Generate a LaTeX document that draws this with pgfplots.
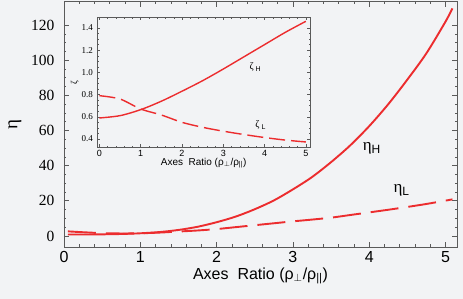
\documentclass[border=0pt]{standalone}
\usepackage{pgfplots}
\pgfplotsset{compat=1.18}
\usepackage{fontspec}
\setmainfont{Liberation Serif}
\setsansfont{Liberation Sans}
\newfontfamily\lsans{Liberation Sans}
\newfontfamily\lserif{Liberation Serif}
\definecolor{bg}{RGB}{242,243,245}
\definecolor{cr}{RGB}{236,44,46}
\definecolor{fr}{RGB}{90,90,90}
\begin{document}
\begin{tikzpicture}
\useasboundingbox (-64pt,-52pt) rectangle (399pt,247pt);
\fill[bg] (-64pt,-52pt) rectangle (399pt,247pt);
\begin{axis}[
  at={(0pt,0pt)}, anchor=south west,
  scale only axis, width=393pt, height=245.3pt,
  xmin=0, xmax=5.15, ymin=-6.3, ymax=133.3,
  axis line style={fr, line width=0.8pt},
  tick style={fr, line width=0.6pt},
  tick align=inside,
  major tick length=5pt, minor tick length=2.5pt,
  xtick={0,1,2,3,4,5}, minor x tick num=4,
  xticklabels={0,1,2,3,4,5},
  ytick={0,20,40,60,80,100,120}, minor y tick num=3,
  yticklabels={0,20,40,60,80,100,120},
  xticklabel style={font=\lsans\fontsize{16}{16}\selectfont, yshift=-1pt},
  yticklabel style={font=\lserif\fontsize{15.5}{16}\selectfont, xshift=-6pt},
  xlabel={\lsans\fontsize{16}{16}\selectfont Axes\ \ Ratio (ρ\textsubscript{$\perp$}/ρ\textsubscript{||})},
  xlabel style={yshift=2pt},
  ylabel={\lserif\fontsize{19}{19}\selectfont η},
  ylabel style={yshift=3pt},
  axis background/.style={fill=bg},
  clip=false,
]
\addplot[cr, line width=1.9pt, smooth] coordinates {
(0.05,0.8)(0.25,0.8)(0.5,0.9)(0.75,1.1)(1.0,1.5)(1.25,2.2)(1.5,3.4)(1.75,5.2)
(2.0,7.8)(2.25,11.0)(2.5,15.2)(2.75,20.2)(3.0,26.5)(3.25,33.5)(3.5,42)
(3.75,51.5)(4.0,62.5)(4.25,75)(4.5,89)(4.75,104)(5.0,122)(5.09,129.5)};
\addplot[cr, line width=1.9pt, smooth, dash pattern=on 28pt off 10pt] coordinates {
(0.05,2.6)(0.25,2.1)(0.5,1.6)(0.75,1.4)(1.0,1.5)(1.25,1.9)(1.5,2.5)(1.75,3.1)
(2.0,3.9)(2.25,5.0)(2.5,6.1)(2.75,7.2)(3.0,8.3)(3.25,9.3)(3.5,10.4)
(3.75,11.9)(4.0,13.4)(4.25,14.9)(4.5,16.5)(4.75,18.2)(5.0,20.1)(5.09,20.8)};
\node[font=\lserif\fontsize{17}{17}\selectfont] at (axis cs:4.03,50) {η\raisebox{-3pt}{\lsans\fontsize{12}{12}\selectfont H}};
\node[font=\lserif\fontsize{17}{17}\selectfont] at (axis cs:4.42,26) {η\raisebox{-3pt}{\lsans\fontsize{12}{12}\selectfont L}};
\end{axis}
\begin{axis}[
  at={(33.3pt,99.7pt)}, anchor=south west,
  scale only axis, width=212.7pt, height=130pt,
  xmin=-0.05, xmax=5.1, ymin=0.325, ymax=1.496,
  axis line style={fr, line width=0.6pt},
  tick style={fr, line width=0.4pt},
  tick align=inside,
  major tick length=3pt, minor tick length=1.5pt,
  xtick={0,1,2,3,4,5}, minor x tick num=4,
  xticklabels={0,1,2,3,4,5},
  ytick={0.4,0.6,0.8,1.0,1.2,1.4}, minor y tick num=3,
  yticklabels={0.4,0.6,0.8,1.0,1.2,1.4},
  xticklabel style={font=\lsans\fontsize{9}{9}\selectfont, yshift=1pt},
  yticklabel style={font=\lserif\fontsize{9}{9}\selectfont, xshift=-1pt},
  xlabel={\lsans\fontsize{10}{10}\selectfont Axes\ \ Ratio (ρ\textsubscript{$\perp$}/ρ\textsubscript{||})},
  xlabel style={yshift=5pt},
  ylabel={\lserif\fontsize{9}{9}\selectfont ζ},
  ylabel style={yshift=-4pt},
  axis background/.style={fill=bg},
  clip=false,
]
\addplot[cr, line width=1.4pt, smooth] coordinates {
(0,0.589)(0.5,0.61)(1.0,0.664)(1.5,0.74)(2.0,0.83)(2.5,0.925)(3.0,1.03)
(3.5,1.14)(4.0,1.25)(4.5,1.36)(5.0,1.46)};
\addplot[cr, line width=1.4pt, smooth, dash pattern=on 16pt off 6pt] coordinates {
(0,0.79)(0.5,0.76)(1.0,0.67)(1.5,0.616)(2.0,0.55)(2.5,0.505)(3.0,0.47)
(3.5,0.44)(4.0,0.413)(4.5,0.39)(5.0,0.373)};
\node[font=\lserif\fontsize{10}{10}\selectfont] at (axis cs:3.77,1.05) {ζ\raisebox{-2pt}{\lsans\fontsize{7}{7}\selectfont\ H}};
\node[font=\lserif\fontsize{10}{10}\selectfont] at (axis cs:3.9,0.525) {ζ\raisebox{-2pt}{\lsans\fontsize{7}{7}\selectfont\ L}};
\end{axis}
\end{tikzpicture}
\end{document}
